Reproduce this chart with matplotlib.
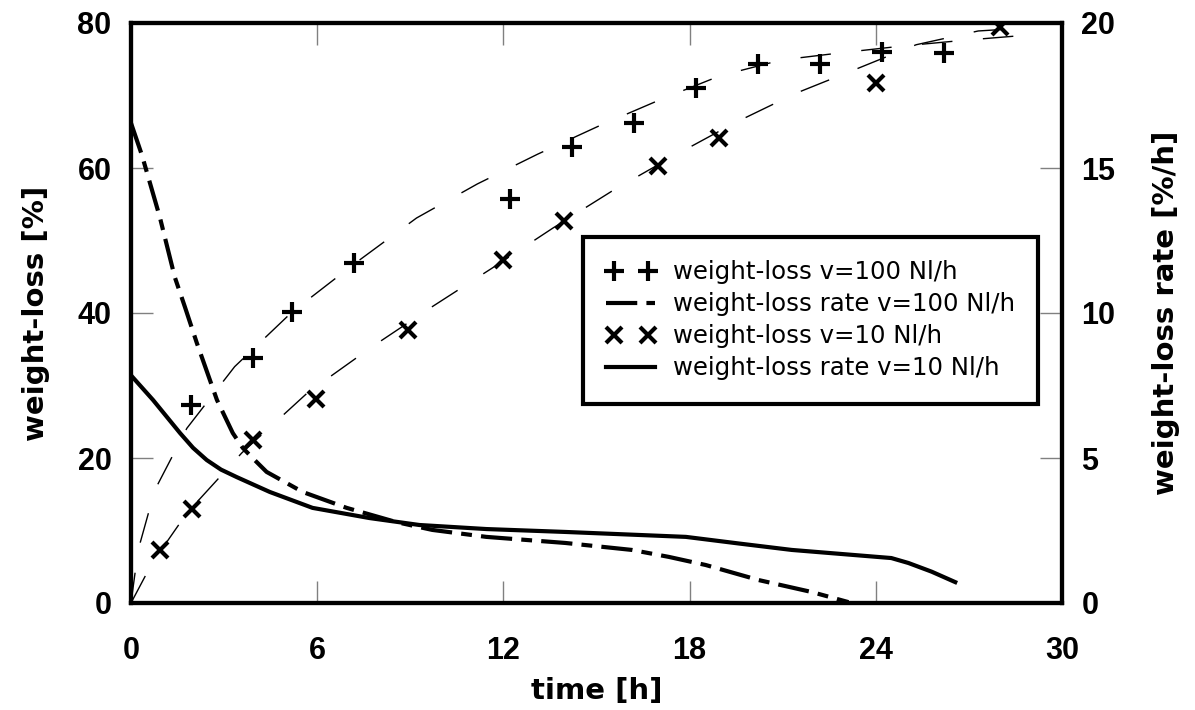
import matplotlib
matplotlib.use("Agg")
import matplotlib.pyplot as plt
from matplotlib.lines import Line2D
from matplotlib.legend_handler import HandlerLine2D

plt.rcParams['font.family'] = ['Liberation Sans', 'DejaVu Sans']
plt.rcParams['font.weight'] = 'bold'

# weight-loss measurements [%]
t_100 = [1.93, 3.92, 5.18, 7.2, 12.2, 14.2, 16.2, 18.2, 20.2, 22.2, 24.2, 26.2]
wl_100 = [27.3, 33.8, 40.2, 46.9, 55.7, 62.9, 66.2, 71.1, 74.3, 74.3, 76.0, 75.9]
t_10 = [0.95, 1.96, 3.92, 5.95, 8.94, 12.0, 13.95, 16.98, 18.94, 24.0, 28.0]
wl_10 = [7.3, 12.9, 22.5, 28.1, 37.7, 47.3, 52.7, 60.3, 64.2, 71.7, 79.5]

# fitted weight-loss curves (thin dashed)
fit_t_100 = [0, 0.23, 0.77, 1.8, 3.34, 5.18, 7.14, 9.2, 11.16, 13.1, 15.08,
             17.04, 18.97, 20.96, 22.9, 24.8, 26.8, 28.8]
fit_wl_100 = [0, 7.3, 15.6, 24.1, 32.6, 40.1, 46.6, 53.1, 57.8, 61.9, 65.8,
              69.4, 72.7, 74.9, 75.9, 76.8, 77.6, 78.3]
fit_t_10 = [0, 0.68, 1.8, 3.57, 5.69, 7.72, 9.68, 11.64, 13.59, 15.53, 17.5,
            19.44, 21.42, 23.4, 25.3, 27.3, 28.8]
fit_wl_10 = [0, 5.5, 12.4, 20.7, 29.0, 35.2, 40.8, 46.2, 51.7, 56.9, 61.7,
             66.2, 70.3, 73.7, 77.0, 78.9, 79.3]

# weight-loss rate [%/h]
rt_100 = [0, 0.35, 0.93, 1.41, 1.74, 2.12, 2.77, 3.28, 3.6, 3.89, 4.37, 5.53,
          6.95, 8.55, 9.71, 11.45, 14.0, 16.14, 17.33, 18.52, 20.23, 21.93, 23.12]
rate_100 = [16.55, 15.45, 13.3, 11.24, 10.2, 8.97, 7.0, 5.86, 5.35, 5.03, 4.52,
            3.83, 3.28, 2.79, 2.52, 2.28, 2.07, 1.83, 1.59, 1.31, 0.79, 0.38, 0.03]
rt_10 = [0, 0.71, 1.58, 2.0, 2.44, 2.9, 3.41, 4.47, 5.85, 7.68, 9.29, 11.45,
         14.0, 17.88, 19.6, 21.29, 24.5, 25.05, 25.8, 26.56]
rate_10 = [7.85, 7.0, 5.86, 5.35, 4.93, 4.6, 4.34, 3.83, 3.28, 2.93, 2.69, 2.55,
           2.45, 2.28, 2.05, 1.83, 1.55, 1.38, 1.08, 0.72]

labels = ["weight-loss v=100 Nl/h", "weight-loss rate v=100 Nl/h",
          "weight-loss v=10 Nl/h", "weight-loss rate v=10 Nl/h"]

dashdot = (7.5, 2.2, 2.6, 2.2)
fitdash = (22, 22)
label_font = {'family': ['DejaVu Sans'], 'size': 21, 'weight': 'bold'}

fig = plt.figure(figsize=(11.95, 7.1), dpi=100)
ax = fig.add_axes([131 / 1195, 1 - 603 / 710, (1062 - 131) / 1195, (603 - 23) / 710])
ax2 = ax.twinx()

ax.plot(fit_t_100, fit_wl_100, color='k', lw=1, dashes=fitdash)
ax.plot(fit_t_10, fit_wl_10, color='k', lw=1, dashes=fitdash)
ax.plot(t_100, wl_100, ls='none', marker='+', ms=14, mew=3, color='k')
ax.plot(t_10, wl_10, ls='none', marker='x', ms=12, mew=3, color='k')

ax2.plot(rt_100, rate_100, color='k', lw=3, dashes=dashdot)
ax2.plot(rt_10, rate_10, color='k', lw=3)

ax.set_xlim(0, 30)
ax.set_ylim(0, 80)
ax2.set_ylim(0, 20)
ax.set_xticks([0, 6, 12, 18, 24, 30])
ax.set_yticks([0, 20, 40, 60, 80])
ax2.set_yticks([0, 5, 10, 15, 20])

ax.tick_params(direction='in', length=16, width=1, color='gray', labelsize=22,
               top=True, right=False)
ax.tick_params(axis='x', pad=24)
ax.tick_params(axis='y', pad=14)
ax2.tick_params(axis='y', direction='in', length=16, width=1, color='gray',
                labelsize=22, pad=14)

for a in (ax, ax2):
    for s in a.spines.values():
        s.set_linewidth(3)

ax.set_xlabel("time [h]", fontdict=label_font, labelpad=8)
ax.set_ylabel("weight-loss [%]", fontdict=label_font, labelpad=20)
ax2.set_ylabel("weight-loss rate [%/h]", fontdict=label_font, labelpad=26)

h_plus = Line2D([], [], ls='none', marker='+', ms=14, mew=3, color='k')
h_dashdot = Line2D([], [], color='k', lw=3, dashes=dashdot)
h_cross = Line2D([], [], ls='none', marker='x', ms=12, mew=3, color='k')
h_solid = Line2D([], [], color='k', lw=3)

leg = ax2.legend([h_plus, h_dashdot, h_cross, h_solid], labels, loc='upper left',
                 bbox_to_anchor=(583 / 1195, 1 - 237 / 710),
                 bbox_transform=fig.transFigure, borderaxespad=0,
                 numpoints=2, handlelength=2.0, handletextpad=0.72,
                 labelspacing=0.33, borderpad=0.95, fancybox=False,
                 framealpha=1, edgecolor='k',
                 handler_map={h_dashdot: HandlerLine2D(numpoints=1),
                              h_solid: HandlerLine2D(numpoints=1)},
                 prop={'family': ['DejaVu Sans'], 'size': 17.6, 'weight': 'normal'})
leg.get_frame().set_linewidth(3)

fig.savefig("out.png", dpi=100)
